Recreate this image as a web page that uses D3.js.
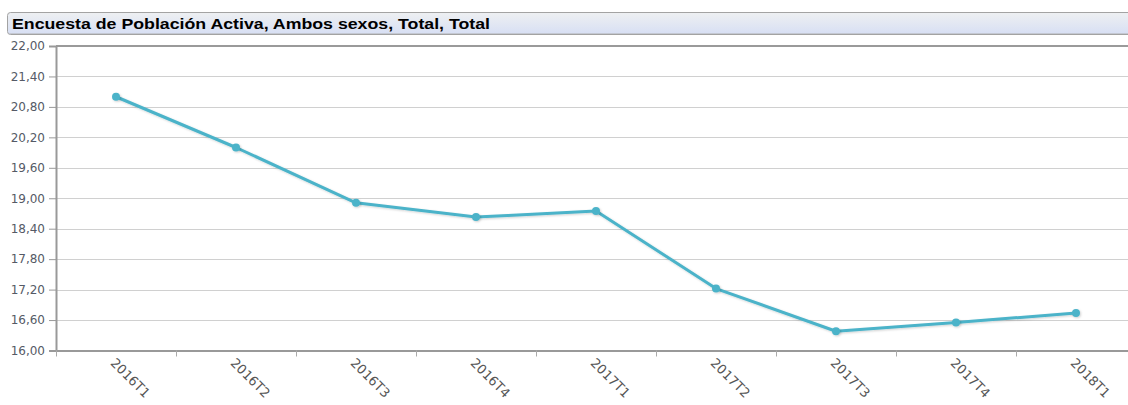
<!DOCTYPE html>
<html>
<head>
<meta charset="utf-8">
<script src="https://cdnjs.cloudflare.com/ajax/libs/d3/7.8.5/d3.min.js"></script>
<style>
  body { margin: 0; background: #fff; overflow: hidden; }
  svg { display: block; }
</style>
</head>
<body>
<div id="chart"></div>
<script>
const title = "Encuesta de Población Activa, Ambos sexos, Total, Total";
const periods = ["2016T1", "2016T2", "2016T3", "2016T4", "2017T1", "2017T2", "2017T3", "2017T4", "2018T1"];
const values = [21.00, 20.00, 18.91, 18.63, 18.75, 17.22, 16.38, 16.55, 16.74];
const yTicks = [16.0, 16.6, 17.2, 17.8, 18.4, 19.0, 19.6, 20.2, 20.8, 21.4, 22.0];

function draw() {
  const width = 1128;
  const height = 405;
  const margin = { top: 46, left: 56, bottom: 55 };
  const plotRight = 1136;

  const svg = d3.select("#chart")
    .append("svg")
    .attr("width", width)
    .attr("height", height);

  const defs = svg.append("defs");
  const grad = defs.append("linearGradient")
    .attr("id", "titleGrad")
    .attr("x1", 0).attr("y1", 0).attr("x2", 0).attr("y2", 1);
  grad.append("stop").attr("offset", "0%").attr("stop-color", "#eef0f2");
  grad.append("stop").attr("offset", "100%").attr("stop-color", "#d7dff4");

  const shadow = defs.append("filter").attr("id", "shadow")
    .attr("x", "-50%").attr("y", "-50%").attr("width", "200%").attr("height", "200%");
  shadow.append("feDropShadow")
    .attr("dx", 1).attr("dy", 1).attr("stdDeviation", 0.8)
    .attr("flood-color", "#000").attr("flood-opacity", 0.18);

  // title bar
  svg.append("rect")
    .attr("x", 7.5).attr("y", 12.5)
    .attr("width", 1140).attr("height", 22)
    .attr("rx", 3)
    .attr("fill", "url(#titleGrad)")
    .attr("stroke", "#a3a3a3");
  svg.append("line")
    .attr("x1", 9).attr("x2", width)
    .attr("y1", 33.5).attr("y2", 33.5)
    .attr("stroke", "#c4c8d2");
  svg.append("text")
    .attr("x", 12).attr("y", 29)
    .attr("font-family", "Liberation Sans, Arial, sans-serif")
    .attr("font-weight", "bold")
    .attr("font-size", 15)
    .attr("textLength", 478)
    .attr("lengthAdjust", "spacingAndGlyphs")
    .attr("fill", "#000")
    .text(title);

  const x = d3.scaleBand()
    .domain(periods)
    .range([margin.left, plotRight]);

  const y = d3.scaleLinear()
    .domain([16, 22])
    .range([height - margin.bottom + 0.5, margin.top]);

  // grid
  svg.append("g")
    .selectAll("line")
    .data(yTicks.slice(1, -1))
    .join("line")
    .attr("x1", margin.left).attr("x2", plotRight)
    .attr("y1", d => Math.round(y(d)) + 0.5)
    .attr("y2", d => Math.round(y(d)) + 0.5)
    .attr("stroke", "#d0d0d0");

  // top border
  svg.append("line")
    .attr("x1", margin.left).attr("x2", plotRight)
    .attr("y1", y(22)).attr("y2", y(22))
    .attr("stroke", "#9a9a9a").attr("stroke-width", 2);

  // y axis
  const yAxis = svg.append("g")
    .attr("transform", `translate(${margin.left},0)`)
    .call(d3.axisLeft(y)
      .tickValues(yTicks)
      .tickSize(7)
      .tickPadding(4)
      .tickFormat(d => d3.format(".2f")(d).replace(".", ",")));
  yAxis.select(".domain").attr("stroke", "#999").attr("stroke-width", 2);
  yAxis.selectAll(".tick line").attr("stroke", "#999");
  yAxis.selectAll("text")
    .attr("fill", "#555a66")
    .attr("font-family", "DejaVu Sans, Verdana, sans-serif")
    .attr("font-size", 12);

  // x axis
  const xAxis = svg.append("g")
    .attr("transform", `translate(0,${y(16)})`)
    .call(d3.axisBottom(x).tickSize(0).tickFormat(""));
  xAxis.select(".domain").attr("stroke", "#999").attr("stroke-width", 2);
  xAxis.selectAll(".tick").remove();

  const bounds = periods.map(p => x(p)).concat([plotRight]);
  xAxis.selectAll("line.bound")
    .data(bounds)
    .join("line")
    .attr("class", "bound")
    .attr("x1", d => d + 0.5).attr("x2", d => d + 0.5)
    .attr("y1", 0).attr("y2", 6)
    .attr("stroke", "#aaa");

  xAxis.selectAll("text.lbl")
    .data(periods)
    .join("text")
    .attr("class", "lbl")
    .attr("text-anchor", "start")
    .attr("transform", d => `translate(${x(d) + x.bandwidth() / 2 - 3},${10}) rotate(45)`)
    .attr("fill", "#555")
    .attr("font-family", "DejaVu Sans, Verdana, sans-serif")
    .attr("font-size", 13)
    .attr("dy", "0.35em")
    .text(d => d);

  // line
  const cx = d => x(d) + x.bandwidth() / 2;
  const line = d3.line()
    .x((d, i) => cx(periods[i]))
    .y(d => y(d));

  svg.append("path")
    .datum(values)
    .attr("d", line)
    .attr("fill", "none")
    .attr("stroke", "#4bb3c9")
    .attr("stroke-width", 3)
    .attr("stroke-linejoin", "round")
    .attr("filter", "url(#shadow)");

  svg.append("g")
    .selectAll("circle")
    .data(values)
    .join("circle")
    .attr("cx", (d, i) => cx(periods[i]))
    .attr("cy", d => y(d))
    .attr("r", 4)
    .attr("fill", "#4bb3c9")
    .attr("filter", "url(#shadow)");
}
draw();
</script>
</body>
</html>
